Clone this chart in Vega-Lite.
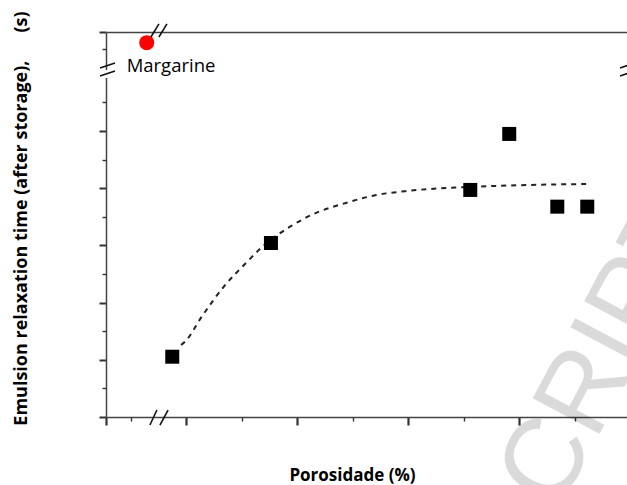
{
  "$schema": "https://vega.github.io/schema/vega-lite/v6.json",
  "autosize": "none",
  "width": 521,
  "height": 385,
  "padding": {"left": 106, "top": 32, "right": 0, "bottom": 68},
  "background": "white",
  "config": {"view": {"stroke": null}, "font": "Open Sans"},
  "datasets": {
    "samples": [
      {"porosity": 8.76, "time": 10.54},
      {"porosity": 17.65, "time": 30.42},
      {"porosity": 35.61, "time": 39.69},
      {"porosity": 39.12, "time": 49.48},
      {"porosity": 43.45, "time": 36.77},
      {"porosity": 46.15, "time": 36.77}
    ],
    "fit": [
      {"porosity": 9.55, "time": 12.59},
      {"porosity": 9.91, "time": 13.16},
      {"porosity": 11.41, "time": 17.53},
      {"porosity": 13.36, "time": 22.67},
      {"porosity": 15.61, "time": 27.33},
      {"porosity": 16.82, "time": 29.67},
      {"porosity": 19.37, "time": 33.27},
      {"porosity": 21.77, "time": 35.72},
      {"porosity": 24.47, "time": 37.46},
      {"porosity": 26.87, "time": 38.69},
      {"porosity": 30.18, "time": 39.56},
      {"porosity": 35.58, "time": 40.21},
      {"porosity": 40.99, "time": 40.56},
      {"porosity": 46.12, "time": 40.73}
    ],
    "margarine": [
      {"porosity": 6.46, "time": 65.44, "label": "Margarine", "lx": 4.65, "ly": 60.31}
    ],
    "breaks": [
      {"x": 6.84, "y": 66.43, "x2": 7.56, "y2": 68.71},
      {"x": 7.56, "y": 66.43, "x2": 8.28, "y2": 68.71},
      {"x": 2.25, "y": 61.01, "x2": 3.6, "y2": 61.89},
      {"x": 2.25, "y": 59.62, "x2": 3.6, "y2": 60.49},
      {"x": 6.75, "y": -1.4, "x2": 7.38, "y2": 1.22},
      {"x": 7.65, "y": -1.4, "x2": 8.38, "y2": 1.22},
      {"x": 49.1, "y": 61.01, "x2": 50.45, "y2": 61.89},
      {"x": 49.1, "y": 59.62, "x2": 50.45, "y2": 60.49}
    ],
    "gap": [{"x": 2.79, "y": 59.27, "y2": 60.66}],
    "watermark": [{"x": 43.5, "y": -16.6, "text": "CRIPT"}]
  },
  "resolve": {"axis": {"x": "independent", "y": "independent"}},
  "layer": [
    {
      "data": {"name": "watermark"},
      "mark": {"type": "text", "align": "left", "baseline": "alphabetic", "angle": -62, "fontSize": 110, "font": "Liberation Sans", "color": "#000000", "opacity": 0.14, "clip": false},
      "encoding": {
        "x": {"field": "x", "type": "quantitative", "scale": {"domain": [2.79, 49.73], "nice": false, "zero": false}, "axis": null},
        "y": {"field": "y", "type": "quantitative", "scale": {"domain": [0, 67.3], "nice": false, "zero": false}, "axis": null},
        "text": {"field": "text"}
      }
    },
    {
      "data": {"name": "fit"},
      "mark": {"type": "line", "interpolate": "monotone", "strokeDash": [5, 5], "strokeWidth": 2, "color": "#222222"},
      "encoding": {
        "x": {"field": "porosity", "type": "quantitative",
          "axis": {"orient": "bottom", "values": [2.79, 10, 20, 30, 40], "labels": false, "tickSize": 8, "tickWidth": 2.2, "tickColor": "#333333", "domainColor": "#444444", "domainWidth": 1.5, "grid": false,
            "title": "Porosidade (%)", "titleFont": "Open Sans", "titleFontWeight": "bold", "titleFontSize": 17, "titleColor": "#000000", "titleX": 246, "titleY": 58, "titleAlign": "center", "titleBaseline": "middle", "titleAnchor": null}},
        "y": {"field": "time", "type": "quantitative",
          "axis": {"orient": "left", "values": [0, 10, 20, 30, 40, 50, 67.3], "labels": false, "tickSize": 7, "tickWidth": 2, "tickColor": "#333333", "domainColor": "#444444", "domainWidth": 1.5, "grid": false,
            "title": "Emulsion relaxation time (after storage),\u00a0\u00a0\u00a0\u00a0\u00a0 (s)", "titleFont": "Open Sans", "titleFontWeight": "bold", "titleFontSize": 18, "titleColor": "#000000", "titleX": -85, "titleY": 186, "titleAngle": -90, "titleAlign": "center", "titleBaseline": "middle", "titleAnchor": null}}
      }
    },
    {
      "data": {"name": "samples"},
      "mark": {"type": "point", "shape": "square", "filled": true, "size": 196, "color": "#000000", "opacity": 1},
      "encoding": {
        "x": {"field": "porosity", "type": "quantitative",
          "axis": {"orient": "bottom", "values": [5, 15, 25, 35, 45], "labels": false, "tickSize": 4, "tickWidth": 1.4, "tickColor": "#333333", "domain": false, "grid": false, "title": null}},
        "y": {"field": "time", "type": "quantitative",
          "axis": {"orient": "left", "values": [5, 15, 25, 35, 45, 55, 64.3], "labels": false, "tickSize": 4, "tickWidth": 1.4, "tickColor": "#333333", "domain": false, "grid": false, "title": null}}
      }
    },
    {
      "data": {"name": "margarine"},
      "mark": {"type": "point", "shape": "circle", "filled": true, "size": 225, "color": "#ff0000", "opacity": 1, "clip": false},
      "encoding": {
        "x": {"field": "porosity", "type": "quantitative",
          "axis": {"orient": "top", "ticks": false, "labels": false, "domainColor": "#444444", "domainWidth": 1.5, "grid": false, "title": null}},
        "y": {"field": "time", "type": "quantitative", "axis": null}
      }
    },
    {
      "data": {"name": "margarine"},
      "mark": {"type": "text", "align": "left", "baseline": "alphabetic", "fontSize": 18.5, "font": "Open Sans", "color": "#000000", "clip": false},
      "encoding": {
        "x": {"field": "lx", "type": "quantitative", "axis": null},
        "y": {"field": "ly", "type": "quantitative", "axis": null},
        "text": {"field": "label"}
      }
    },
    {
      "data": {"name": "gap"},
      "mark": {"type": "rule", "color": "#ffffff", "strokeWidth": 4, "clip": false},
      "encoding": {
        "x": {"field": "x", "type": "quantitative", "axis": null},
        "y": {"field": "y", "type": "quantitative", "axis": null},
        "y2": {"field": "y2"}
      }
    },
    {
      "data": {"name": "breaks"},
      "mark": {"type": "rule", "color": "#111111", "strokeWidth": 1.6, "clip": false},
      "encoding": {
        "x": {"field": "x", "type": "quantitative", "axis": null},
        "y": {"field": "y", "type": "quantitative", "axis": null},
        "x2": {"field": "x2"},
        "y2": {"field": "y2"}
      }
    }
  ]
}
